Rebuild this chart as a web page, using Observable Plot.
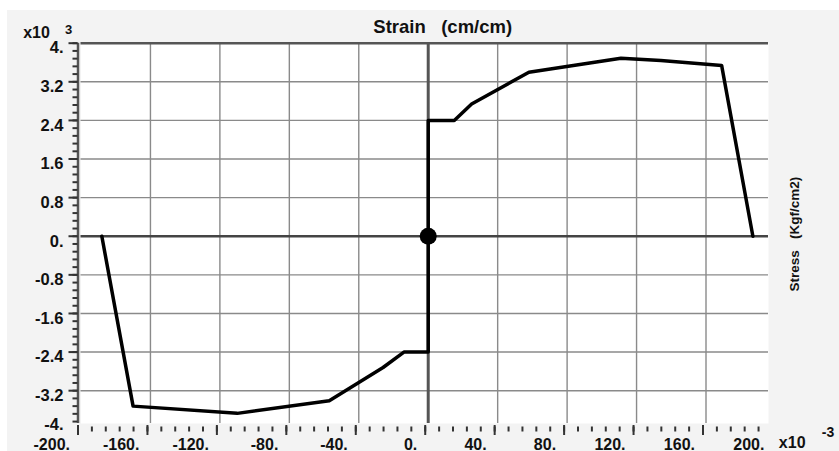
<!DOCTYPE html>
<html><head><meta charset="utf-8">
<script src="https://cdn.jsdelivr.net/npm/d3@7"></script>
<script src="https://cdn.jsdelivr.net/npm/@observablehq/plot@0.6"></script>
<style>
body{margin:0;background:#fff;}
#chart svg{display:block;background:linear-gradient(#fff,#fff) top left/100% 10px no-repeat,linear-gradient(#fff,#fff) top left/7px 100% no-repeat,#f3f3f3;}
</style></head><body><div id="chart"></div>
<script>
// Curve values: strain (x10^-3 cm/cm) and stress (Kgf/cm2)
const strain = [-188, -170, -110, -57, -26, -14, 0, 0, 15, 25, 58, 111, 134, 169, 187];
const stress = [0, -3520, -3670, -3410, -2720, -2400, -2400, 2400, 2400, 2740, 3400, 3690, 3640, 3540, 0];

const xTicks = [-200, -160, -120, -80, -40, 0, 40, 80, 120, 160, 200];
const xTickLabels = ["-200.", "-160.", "-120.", "-80.", "-40.", "0.", "40.", "80.", "120.", "160.", "200."];
const yTicks = [-4000, -3200, -2400, -1600, -800, 0, 800, 1600, 2400, 3200, 4000];
const yTickLabels = ["-4.", "-3.2", "-2.4", "-1.6", "-0.8", "0.", "0.8", "1.6", "2.4", "3.2", "4."];
const xMinor = d3.range(-192, 193, 8);
const yMinor = d3.range(-3840, 4001, 160);
const xGrid = [-160, -120, -80, -40, 40, 80, 120, 160];
const yGrid = [-3200, -2400, -1600, -800, 800, 1600, 2400, 3200];

const curve = strain.map((s, i) => ({strain: s, stress: stress[i]}));
const xLab = xTicks.map((v, i) => ({v, label: xTickLabels[i]}));
const yLab = yTicks.map((v, i) => ({v, label: yTickLabels[i]}));

const font = "'Liberation Sans', Arial, sans-serif";
const dark = "#333";
const txt = {fill: "#111", lineAnchor: "middle"};

const chart = Plot.plot({
  width: 839,
  height: 451,
  marginLeft: 80.5,
  marginRight: 71,
  marginTop: 42.7,
  marginBottom: 28,
  style: {fontFamily: font, fontWeight: "bold", color: "#111", overflow: "visible"},
  x: {domain: [-200, 196], axis: null},
  y: {domain: [-3880, 4000], axis: null},
  marks: [
    Plot.frame({fill: "white", stroke: "none"}),
    Plot.ruleX(xGrid, {stroke: "#8a8a8a", strokeWidth: 1.4}),
    Plot.ruleY(yGrid, {stroke: "#8a8a8a", strokeWidth: 1.4}),
    Plot.ruleY([4000], {stroke: "#555", strokeWidth: 2.5}),
    Plot.ruleX([-200], {stroke: "#555", strokeWidth: 2.5, dx: -3}),
    Plot.ruleY([0], {stroke: "#444", strokeWidth: 2.5}),
    Plot.ruleX([0], {stroke: "#555", strokeWidth: 3}),
    Plot.line(curve, {x: "strain", y: "stress", stroke: "black", strokeWidth: 3.5, strokeLinejoin: "round"}),
    Plot.dot([{strain: 0, stress: 0}], {x: "strain", y: "stress", r: 8.5, fill: "black"}),
    // x ticks
    Plot.axisX({ticks: xMinor, tickSize: 5, dy: 3.5, dx: -3, stroke: dark, strokeWidth: 2, text: null, label: null}),
    Plot.axisX({ticks: xTicks.slice(0, -1), tickSize: 10, dy: 2, dx: -3, stroke: dark, strokeWidth: 2, text: null, label: null}),
    // y ticks
    Plot.axisY({ticks: yMinor, tickSize: 5, dx: -3, stroke: dark, strokeWidth: 2, text: null, label: null}),
    Plot.axisY({ticks: yTicks.slice(1), tickSize: 9, dx: -3, stroke: dark, strokeWidth: 2, text: null, label: null}),
    // tick labels
    Plot.text(xLab, {...txt, x: "v", text: "label", frameAnchor: "bottom", dy: 21, dx: -11, textAnchor: "end", fontSize: 16}),
    Plot.text(yLab, {...txt, y: d => Math.max(d.v, -3800), text: "label", frameAnchor: "left", dx: -17.5, dy: 5, textAnchor: "end", fontSize: 16.5}),
    // titles
    Plot.text(["Strain\u00a0\u00a0\u00a0(cm/cm)"], {...txt, frameAnchor: "top", textAnchor: "middle", dx: 18, dy: -16, fontSize: 18.5}),
    Plot.text(["Stress\u00a0\u00a0\u00a0(Kgf/cm2)"], {...txt, frameAnchor: "right", textAnchor: "middle", dx: 26, dy: 0.7, rotate: -90, fontSize: 13.5}),
    Plot.text(["x10"], {...txt, frameAnchor: "top-left", textAnchor: "middle", dx: -44.5, dy: -10, fontSize: 16}),
    Plot.text(["3"], {...txt, frameAnchor: "top-left", textAnchor: "middle", dx: -12.5, dy: -13.5, fontSize: 13}),
    Plot.text(["x10"], {...txt, frameAnchor: "bottom-right", textAnchor: "middle", dx: 23.7, dy: 19.7, fontSize: 16}),
    Plot.text(["-3"], {...txt, frameAnchor: "bottom-right", textAnchor: "middle", dx: 59.5, dy: 8.7, fontSize: 14})
  ]
});
document.getElementById("chart").appendChild(chart);
</script>
</body></html>
